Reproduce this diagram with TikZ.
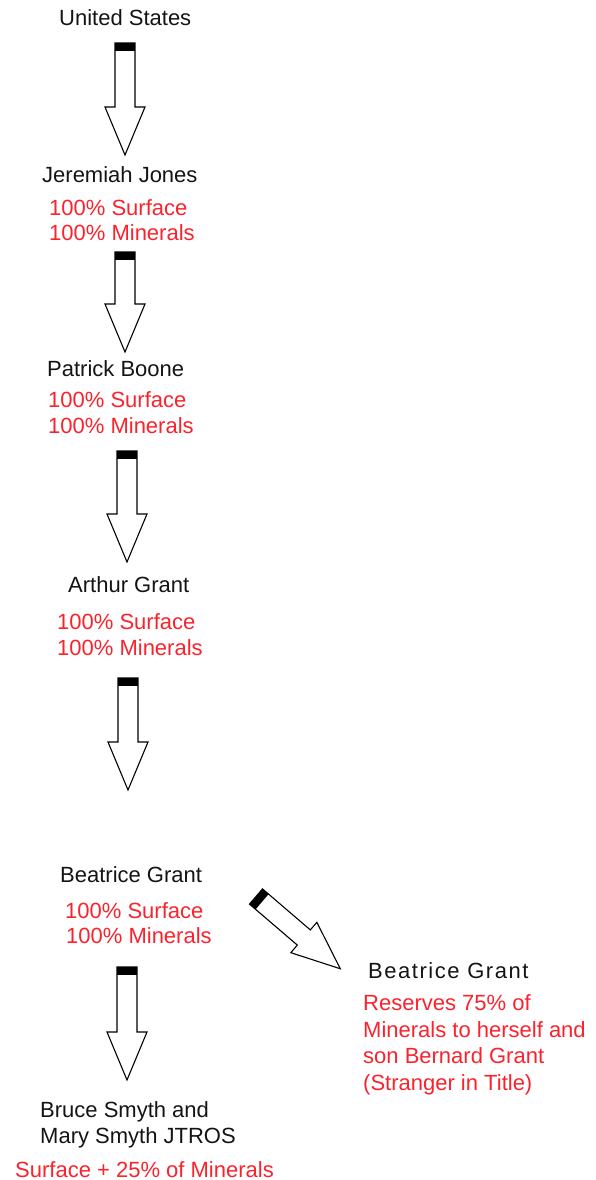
\documentclass[tikz,border=0pt]{standalone}
\usepackage{fontspec}
\setmainfont{Liberation Sans}
\newfontfamily\spacedsans[LetterSpace=7]{Liberation Sans}
\definecolor{lblred}{RGB}{250,35,45}
\definecolor{lblblack}{RGB}{20,20,20}
\begin{document}
\begin{tikzpicture}[x=1pt,y=-1pt,
  owner/.style={inner sep=0pt,anchor=base west,font=\fontsize{22}{26}\selectfont,text=lblblack},
  share/.style={inner sep=0pt,anchor=base west,font=\fontsize{22}{26}\selectfont,text=lblred},
  fatarrow/.pic={
    \draw[line width=1.1pt,line join=miter,fill=white]
      (-10,0) -- (10,0) -- (10,#1-48) -- (20,#1-48) -- (0,#1)
      -- (-20,#1-48) -- (-10,#1-48) -- cycle;
    \fill[black] (-10,0) rectangle (10,8);
  }]
\useasboundingbox (0,0) rectangle (595,1180);

% owners and shares
\node[owner] (us) at (59,26) {United States};
\node[owner] (jj) at (42,182) {Jeremiah Jones};
\node[share] (jjs) at (49,215) {100\% Surface};
\node[share] (jjm) at (49,240) {100\% Minerals};
\node[owner] (pb) at (47,376) {Patrick Boone};
\node[share] (pbs) at (48,407) {100\% Surface};
\node[share] (pbm) at (48,433) {100\% Minerals};
\node[owner] (ag) at (68,592) {Arthur Grant};
\node[share] (ags) at (57,629) {100\% Surface};
\node[share] (agm) at (57,655) {100\% Minerals};
\node[owner] (bg) at (60,882) {Beatrice Grant};
\node[share] (bgs) at (65,918) {100\% Surface};
\node[share] (bgm) at (66,943) {100\% Minerals};
\node[owner] (bs1) at (40,1117) {Bruce Smyth and};
\node[owner] (bs2) at (40,1143) {Mary Smyth JTROS};
\node[share] (bs3) at (15,1177) {Surface + 25\% of Minerals};
\node[owner,font=\spacedsans\fontsize{22}{26}\selectfont] (rb) at (368,978) {Beatrice Grant};
\node[share] (r1) at (363,1010) {Reserves 75\% of};
\node[share] (r2) at (363,1037) {Minerals to herself and};
\node[share] (r3) at (363,1063) {son Bernard Grant};
\node[share] (r4) at (363,1090) {(Stranger in Title)};

% conveyance arrows
\coordinate (a1) at (125,43);
\coordinate (a2) at (125,252);
\coordinate (a3) at (127,451);
\coordinate (a4) at (128,678);
\coordinate (a5) at (127,967);
\coordinate (a6) at (256,896.5);
\pic at (a1) {fatarrow=112};
\pic at (a2) {fatarrow=100};
\pic at (a3) {fatarrow=111};
\pic at (a4) {fatarrow=112};
\pic at (a5) {fatarrow=113};
\pic[rotate=49.4] at (a6) {fatarrow=111};
\end{tikzpicture}
\end{document}
